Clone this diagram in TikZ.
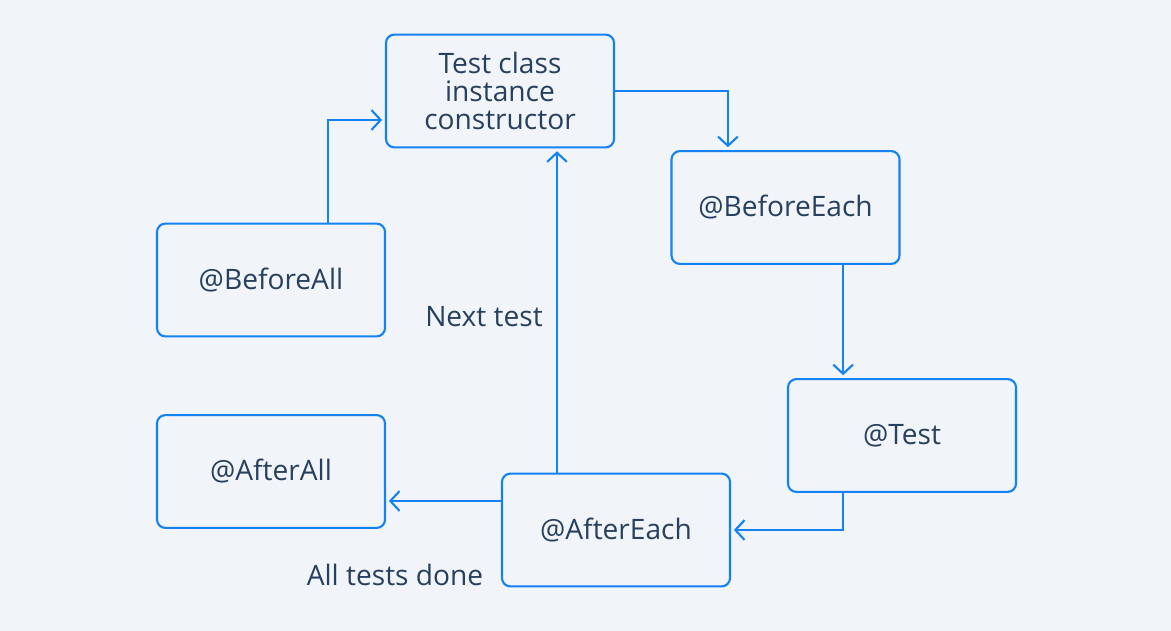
\documentclass[tikz,border=0pt]{standalone}
\usepackage{fontspec}
\setmainfont{Open Sans}
\usetikzlibrary{positioning,calc,arrows.meta}
\definecolor{bgcol}{HTML}{F1F4F9}
\definecolor{linecol}{HTML}{1482F5}
\definecolor{txtcol}{HTML}{27405F}
\tikzset{
    stage/.style={draw=linecol, line width=1.5pt, rounded corners=6pt, fill=bgcol,
        minimum width=5.7cm, minimum height=2.82cm, align=center,
        text=txtcol, font=\fontsize{20}{20}\selectfont},
    flow/.style={draw=linecol, line width=1.5pt,
        -{Straight Barb[length=6.5pt, width=14pt, line width=1.5pt]}, shorten >=2pt},
    note/.style={text=txtcol, font=\fontsize{20}{20}\selectfont}
}
\begin{document}
\begin{tikzpicture}[x=0.025cm, y=-0.025cm]
        % Background
        \fill[bgcol] (0,0) rectangle (1171,631);
        \useasboundingbox (0,0) rectangle (1171,631);

        % Stages
        \node[stage] (ctor) at (500,91) {Test class\\instance\\constructor};
        \node[stage] (beforeall) at (271,280) {@BeforeAll};
        \node[stage] (beforeeach) at (785.5,207.5) {@BeforeEach};
        \node[stage] (test) at (902,435.5) {@Test};
        \node[stage] (aftereach) at (616,530) {@AfterEach};
        \node[stage] (afterall) at (271,471.5) {@AfterAll};

        % Labels
        \node[note] (nexttest) at (484,317) {Next test};
        \node[note] (alldone) at (395,575) {All tests done};

        % Flow
        \draw[flow] ([xshift=1.425cm]beforeall.north) |- ([yshift=-0.725cm]ctor.west);
        \draw[flow] (ctor.east) -| ([xshift=-1.44cm]beforeeach.north);
        \draw[flow] ([xshift=1.44cm]beforeeach.south) -- ([xshift=1.44cm]beforeeach.south |- test.north);
        \draw[flow] ([xshift=-1.475cm]test.south) |- (aftereach.east);
        \draw[flow] ([xshift=-1.475cm]aftereach.north) -- ([xshift=-1.475cm]aftereach.north |- ctor.south);
        \draw[flow] ([yshift=0.725cm]aftereach.west) -- ([yshift=0.725cm]aftereach.west -| afterall.east);
    \end{tikzpicture}
\end{document}
